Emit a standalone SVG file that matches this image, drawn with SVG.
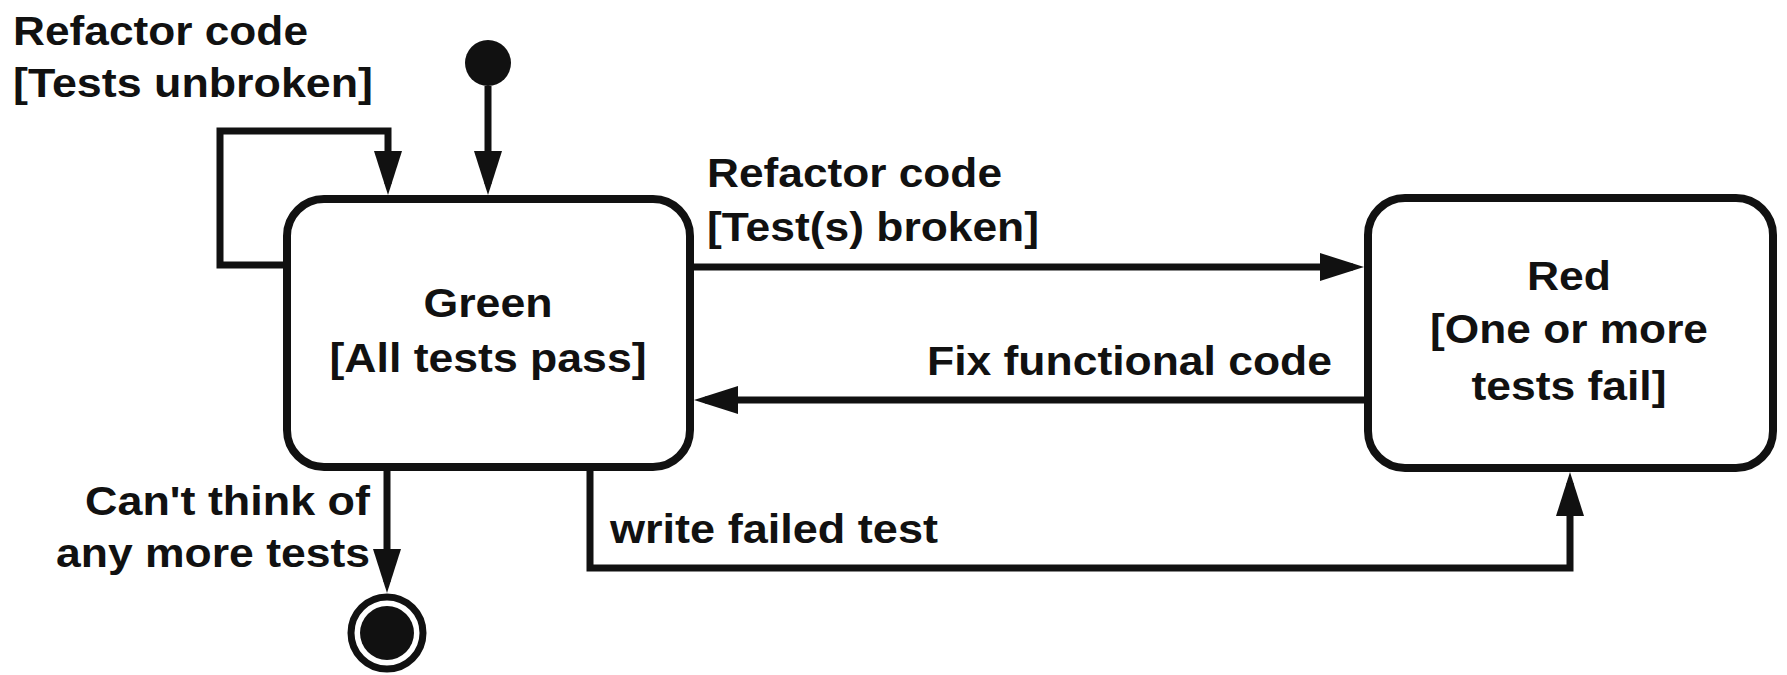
<svg xmlns="http://www.w3.org/2000/svg" width="1787" height="675" viewBox="0 0 1787 675">
<style>
text{font-family:"Liberation Sans",Arial,sans-serif;font-weight:bold;font-size:40px;fill:#111}
.state{fill:#fff;stroke:#111;stroke-width:8}
.conn{fill:none;stroke:#111;stroke-width:7;stroke-linejoin:miter}
.c{text-anchor:middle}
.e{text-anchor:end}
</style>
<defs>
<marker id="arr" viewBox="0 0 44 28" refX="33" refY="14" markerWidth="44" markerHeight="28" markerUnits="userSpaceOnUse" orient="auto">
<path d="M0,0 L44,14 L0,28 z" fill="#111"/>
</marker>
</defs>
<rect width="1787" height="675" fill="#fff"/>
<g id="connectors">
<path class="conn" d="M286,265 H220 V131 H388 V184" marker-end="url(#arr)"/>
<path class="conn" d="M488,86 V184" marker-end="url(#arr)"/>
<path class="conn" d="M690,267 H1353" marker-end="url(#arr)"/>
<path class="conn" d="M1366,400 H705" marker-end="url(#arr)"/>
<path class="conn" d="M590,467 V568 H1570 V483" marker-end="url(#arr)"/>
<path class="conn" d="M387,467 V582" marker-end="url(#arr)"/>
</g>
<g id="labels">
<text x="13" y="45" textLength="295" lengthAdjust="spacingAndGlyphs">Refactor code</text>
<text x="13" y="97" textLength="360" lengthAdjust="spacingAndGlyphs">[Tests unbroken]</text>
<text x="707" y="187" textLength="295" lengthAdjust="spacingAndGlyphs">Refactor code</text>
<text x="707" y="241" textLength="332" lengthAdjust="spacingAndGlyphs">[Test(s) broken]</text>
<text x="927" y="375" textLength="405" lengthAdjust="spacingAndGlyphs">Fix functional code</text>
<text x="610" y="543" textLength="328" lengthAdjust="spacingAndGlyphs">write failed test</text>
<text class="e" x="370" y="515" textLength="285" lengthAdjust="spacingAndGlyphs">Can't think of</text>
<text class="e" x="370" y="567" textLength="314" lengthAdjust="spacingAndGlyphs">any more tests</text>
</g>
<g id="initial">
<circle cx="488" cy="63" r="23" fill="#111"/>
</g>
<g id="green">
<rect class="state" x="287" y="199" width="403" height="268" rx="37" ry="37"/>
<text class="c" x="488" y="317" textLength="129" lengthAdjust="spacingAndGlyphs">Green</text>
<text class="c" x="488" y="372" textLength="317" lengthAdjust="spacingAndGlyphs">[All tests pass]</text>
</g>
<g id="red">
<rect class="state" x="1368" y="198" width="405" height="270" rx="37" ry="37"/>
<text class="c" x="1569" y="290" textLength="84" lengthAdjust="spacingAndGlyphs">Red</text>
<text class="c" x="1569" y="343" textLength="278" lengthAdjust="spacingAndGlyphs">[One or more</text>
<text class="c" x="1569" y="400" textLength="195" lengthAdjust="spacingAndGlyphs">tests fail]</text>
</g>
<g id="final">
<circle cx="387" cy="633" r="36" fill="#fff" stroke="#111" stroke-width="7"/>
<circle cx="387" cy="633" r="27" fill="#111"/>
</g>
</svg>
